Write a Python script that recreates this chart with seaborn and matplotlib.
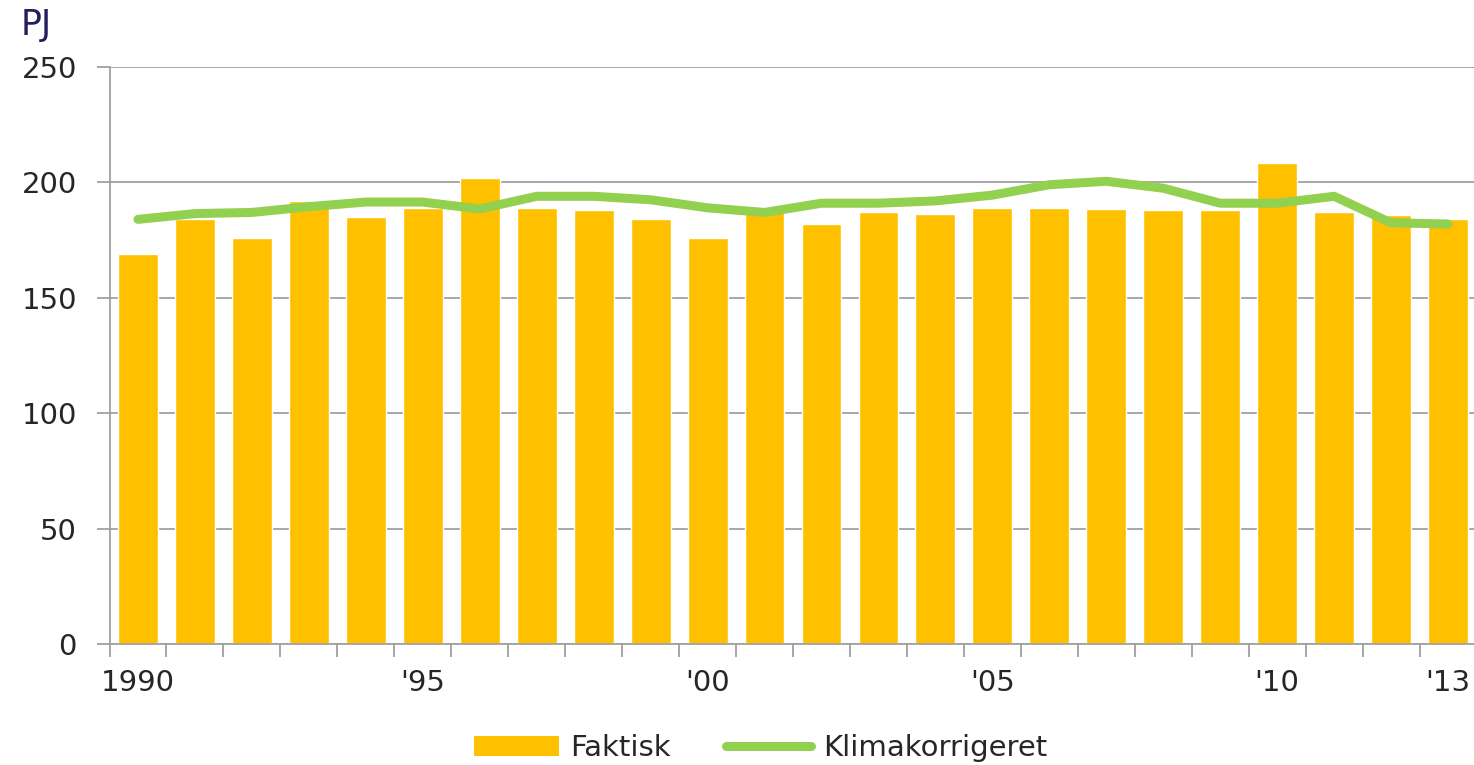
import numpy as np
import pandas as pd
import seaborn as sns
import matplotlib.pyplot as plt
from matplotlib.patches import Patch
from matplotlib.lines import Line2D

# === data ===
years = [str(y) for y in range(1990, 2014)]
faktisk = [169, 184, 176, 192, 185, 189, 202, 189, 188, 184, 176, 187,
           182, 187, 186.5, 189, 189, 188.5, 188, 188, 208.5, 187, 186, 184]
klima = [184, 186.5, 187, 189.5, 191.5, 191.5, 188.5, 194, 194, 192.5, 189, 187,
         191, 191, 192, 194.5, 199, 200.5, 197.5, 191, 191, 194, 182.5, 182]
tick_pos = [0, 5, 10, 15, 20, 23]
tick_labels = ["1990", "'95", "'00", "'05", "'10", "'13"]
y_ticks = [0, 50, 100, 150, 200, 250]

bar_color = "#FFC000"
line_color = "#92D050"
grid_color = "#A0A0A0"
text_color = "#262626"

df = pd.DataFrame({"year": years, "Faktisk": faktisk, "Klimakorrigeret": klima})
df["pos"] = np.arange(len(df))

sns.set_style("white")
plt.rcParams["font.family"] = ["DejaVu Sans"]

fig = plt.figure(figsize=(14.74, 7.65), dpi=100)
ax = fig.add_axes([0.0743, 0.158, 1.0017 - 0.0743, 0.9124 - 0.158])

sns.barplot(data=df, x="year", y="Faktisk", color=bar_color, width=0.7,
            saturation=1, ax=ax, zorder=2)
sns.lineplot(data=df, x="pos", y="Klimakorrigeret", color=line_color,
             linewidth=6.5, ax=ax, zorder=3, solid_capstyle="round")

ax.set_xlim(-0.5, 23.5)
ax.set_ylim(0, 250)
ax.set_yticks(y_ticks)
ax.yaxis.grid(True, color=grid_color, linewidth=1.3, zorder=0)
ax.set_axisbelow(True)

# x ticks: labels at category centers, tick marks at boundaries
ax.set_xticks(tick_pos)
ax.set_xticklabels(tick_labels)
ax.set_xticks(np.arange(-0.5, 24, 1), minor=True)
ax.tick_params(axis="x", which="major", length=0, pad=18, labelsize=21,
               labelcolor=text_color)
ax.tick_params(axis="x", which="minor", length=9, width=1.3, color=grid_color,
               direction="out", bottom=True)
ax.tick_params(axis="y", length=9.5, width=1.3, color=grid_color, pad=14,
               labelsize=21, labelcolor=text_color, left=True)

for s in ["top", "right"]:
    ax.spines[s].set_visible(False)
for s in ["left", "bottom"]:
    ax.spines[s].set_color(grid_color)
    ax.spines[s].set_linewidth(1.3)

ax.set_xlabel("")
ax.set_ylabel("")

fig.text(0.014, 0.967, "PJ", fontsize=25, color="#221F5C", ha="left", va="center")

handles = [Patch(facecolor=bar_color, edgecolor="none"),
           Line2D([], [], color=line_color, linewidth=6.5, solid_capstyle="round")]
fig.legend(handles, ["Faktisk", "Klimakorrigeret"], loc="center",
           bbox_to_anchor=(0.516, 0.022), ncol=2, frameon=False, fontsize=21,
           handlelength=2.9, handleheight=0.65, handletextpad=0.4,
           columnspacing=1.9, labelcolor=text_color)

fig.savefig("out.png", dpi=100)
